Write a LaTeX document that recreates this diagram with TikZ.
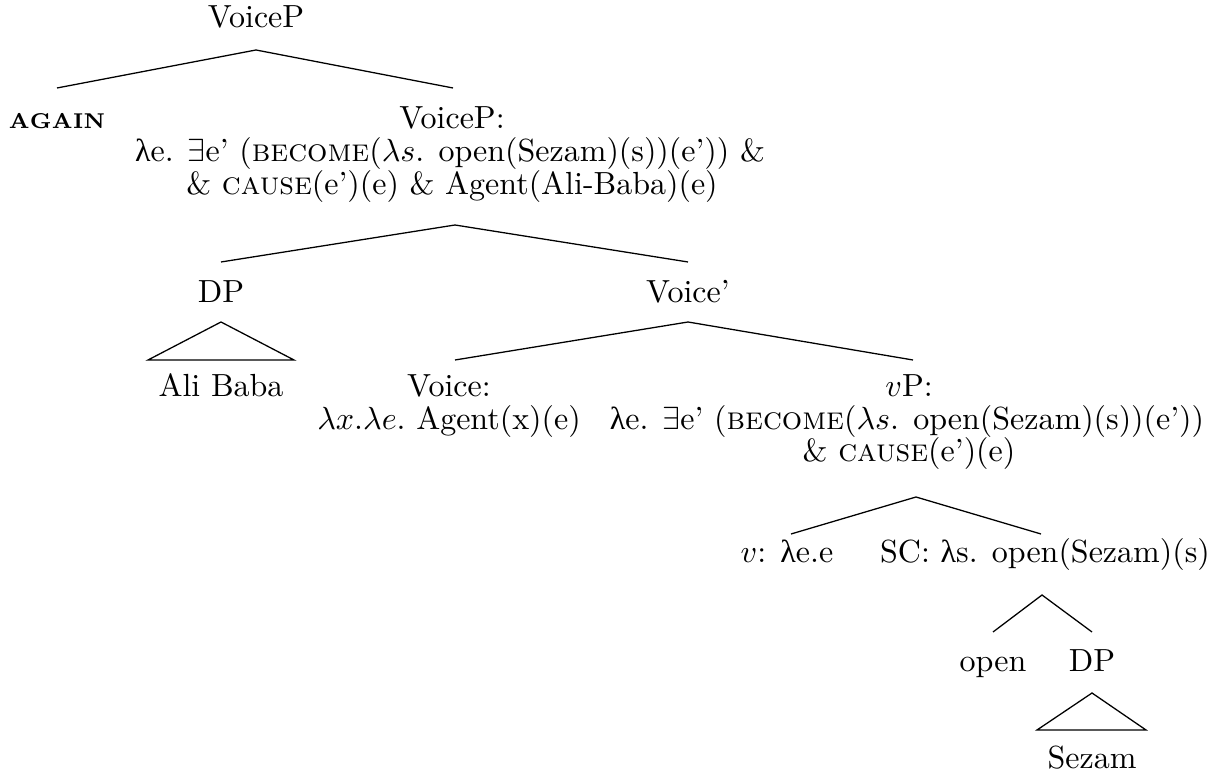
\documentclass[tikz,border=0pt]{standalone}
\usepackage{fontspec}
\newfontfamily\grkfont{Liberation Serif}
\newcommand{\ulam}{{\grkfont λ}}
\newcommand{\againtxt}{{\bfseries\fontsize{6.7}{7}\selectfont A\kern.1pt G\kern.1pt A\kern.1pt I\kern.1pt N}}
\begin{document}
\begin{tikzpicture}[x=0.3125pt,y=-0.3125pt,
  lbl/.style={anchor=base,inner sep=0pt,font=\fontsize{10}{12}\selectfont},
  edge/.style={line width=0.4pt}]
\useasboundingbox (0,0) rectangle (1225,776);
% nodes
\node[lbl] (root) at (256,28) {VoiceP};
\node[lbl] (again) at (57,129) {\againtxt};
\node[lbl] (vpa) at (452,129) {VoiceP:};
\node[lbl] (vpb) at (450,162) {\ulam e. $\exists$e' (\textsc{become}($\lambda s$. open(Sezam)(s))(e')) \&};
\node[lbl] (vpc) at (452,195) {\& \textsc{cause}(e')(e) \& Agent(Ali-Baba)(e)};
\node[lbl] (dp) at (221,303) {DP};
\node[lbl] (vbar) at (688,303) {Voice'};
\node[lbl] (ali) at (221,397) {Ali Baba};
\node[lbl] (voicea) at (449,397) {Voice:};
\node[lbl] (voiceb) at (449,430) {$\lambda x.\lambda e.$ Agent(x)(e)};
\node[lbl] (vPa) at (909,397) {$v$P:};
\node[lbl] (vPb) at (907,430) {\ulam e. $\exists$e' (\textsc{become}($\lambda s$. open(Sezam)(s))(e'))};
\node[lbl] (vPc) at (909,462) {\& \textsc{cause}(e')(e)};
\node[lbl] (vhead) at (787,563) {$v$: \ulam e.e};
\node[lbl] (sc) at (1045,563) {SC: \ulam s. open(Sezam)(s)};
\node[lbl] (open) at (993,671) {open};
\node[lbl] (dp2) at (1092,671) {DP};
\node[lbl] (sezam) at (1092,768) {Sezam};
% edge end points
\coordinate (root-s) at (256,50);
\coordinate (again-n) at (57,88);
\coordinate (vpa-n) at (453,88);
\coordinate (vpc-s) at (455,225);
\coordinate (dp-n) at (221,262);
\coordinate (vbar-n) at (688,262);
\coordinate (dp-s) at (221,322);
\coordinate (tri1-l) at (148,360);
\coordinate (tri1-r) at (294,360);
\coordinate (vbar-s) at (688,322);
\coordinate (voicea-n) at (455,360);
\coordinate (vPa-n) at (913,360);
\coordinate (vPc-s) at (916,497);
\coordinate (vhead-n) at (791,534);
\coordinate (sc-n) at (1041,534);
\coordinate (sc-s) at (1042,595);
\coordinate (open-n) at (993,632);
\coordinate (dp2-n) at (1092,632);
\coordinate (dp2-s) at (1092,693);
\coordinate (tri2-l) at (1037,730);
\coordinate (tri2-r) at (1146,730);
% edges
\draw[edge] (again-n) -- (root-s) -- (vpa-n);
\draw[edge] (dp-n) -- (vpc-s) -- (vbar-n);
\draw[edge] (dp-s) -- (tri1-l) -- (tri1-r) -- cycle;
\draw[edge] (voicea-n) -- (vbar-s) -- (vPa-n);
\draw[edge] (vhead-n) -- (vPc-s) -- (sc-n);
\draw[edge] (open-n) -- (sc-s) -- (dp2-n);
\draw[edge] (dp2-s) -- (tri2-l) -- (tri2-r) -- cycle;
\end{tikzpicture}
\end{document}
